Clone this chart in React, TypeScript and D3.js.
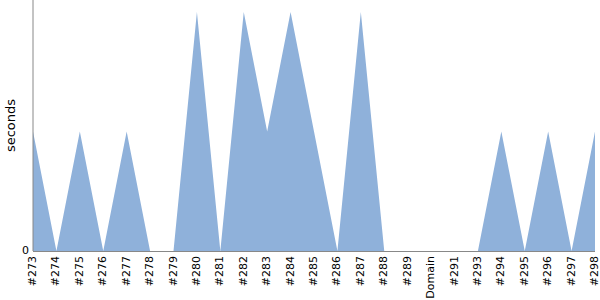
import React from "react";
import * as d3 from "d3";

const categories = ["#273","#274","#275","#276","#277","#278","#279","#280","#281","#282","#283","#284","#285","#286","#287","#288","#289","Domain","#291","#293","#294","#295","#296","#297","#298"];
const values = [1,0,1,0,1,0,0,2,0,2,1,2,1,0,2,0,0,0,0,0,1,0,1,0,1];
const yTicks = [0];

export default function App() {
  const W = 600, H = 300;
  const m = { left: 33, right: 5, top: 0, bottom: 49 };
  const x = d3.scalePoint<string>().domain(categories).range([m.left, W - m.right]);
  const y = d3.scaleLinear().domain([0, 2.1]).range([H - m.bottom, m.top]);
  const data = categories.map((c, i) => ({ c, v: values[i] }));
  const area = d3.area<{ c: string; v: number }>()
    .x(d => x(d.c)!)
    .y0(y(0))
    .y1(d => y(d.v));
  const font = "DejaVu Sans, sans-serif";
  return (
    <svg width={W} height={H} style={{ position: "absolute", left: 0, top: 0 }}>
      <path d={area(data)!} fill="#8fb1da" />
      <line x1={m.left} x2={m.left} y1={m.top} y2={y(0)} stroke="#888" strokeWidth={1} />
      <line x1={m.left} x2={W - m.right} y1={y(0) + 0.5} y2={y(0) + 0.5} stroke="#888" strokeWidth={1} />
      {yTicks.map(t => (
        <text key={t} x={m.left - 4} y={y(t)} textAnchor="end" dominantBaseline="middle" fontFamily={font} fontSize={11}>{t}</text>
      ))}
      {categories.map(c => (
        <text key={c} transform={`translate(${x(c)},${y(0) + 5}) rotate(-90)`} textAnchor="end" dominantBaseline="middle" fontFamily={font} fontSize={11}>{c}</text>
      ))}
      <text transform={`translate(15,${(m.top + y(0)) / 2}) rotate(-90)`} textAnchor="middle" fontFamily={font} fontSize={13}>seconds</text>
    </svg>
  );
}
